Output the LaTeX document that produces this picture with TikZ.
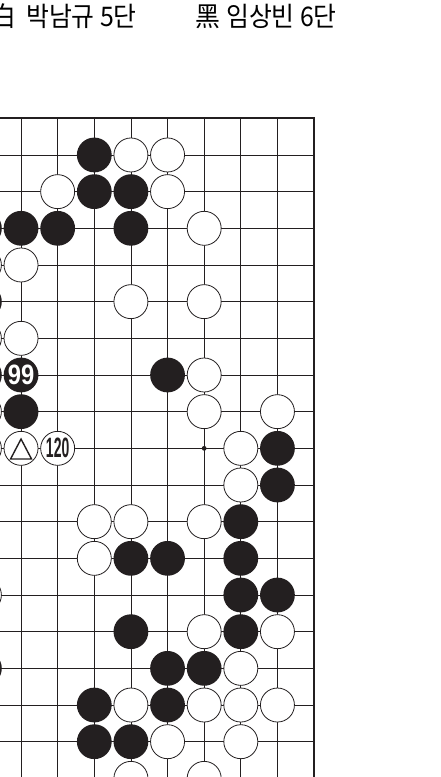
\documentclass[tikz,border=0pt]{standalone}
\usepackage{fontspec}
\usepackage{graphicx}
\usepackage{tikz}
\usetikzlibrary{calc}
\newfontfamily\kfont{Noto Sans CJK KR}
\newfontfamily\numfont{Liberation Sans}
\definecolor{stoneblack}{RGB}{35,31,32}

\begin{document}
\begin{tikzpicture}[x=1pt, y=-1pt,
  gridline/.style={line width=0.8pt, stoneblack},
  edgeline/.style={line width=1.8pt, stoneblack},
  bstone/.style={circle, fill=stoneblack, minimum size=34.8pt, inner sep=0pt},
  wstone/.style={circle, draw=stoneblack, fill=white, line width=0.8pt, minimum size=34pt, inner sep=0pt},
  player/.style={anchor=base west, inner sep=0pt, font=\kfont\fontsize{27pt}{27pt}\selectfont},
  movenum/.style={font=\numfont\bfseries\fontsize{28pt}{28pt}\selectfont}
]
\useasboundingbox (0,0) rectangle (440,777);
\clip (0,0) rectangle (440,777);

% players
\node[player] (wcol) at (-9,26.5) {\scalebox{0.92}[1]{白}};
\node[player] (wname) at (26,26.5) {\scalebox{0.92}[1]{박남규}};
\node[player] (wrank) at (100,26.5) {\scalebox{0.92}[1]{5단}};
\node[player] (bcol) at (195,26.5) {\scalebox{0.92}[1]{黑}};
\node[player] (bname) at (226,26.5) {\scalebox{0.92}[1]{임상빈}};
\node[player] (brank) at (300,26.5) {\scalebox{0.92}[1]{6단}};

\begin{scope}[shift={(-15.6pt,-118.3pt)}, x=36.63pt, y=-36.67pt]
% board lines
\foreach \c in {0,...,8} \draw[gridline] (\c,0) -- (\c,19);
\foreach \r in {1,...,18} \draw[gridline] (-1,\r) -- (9,\r);
\draw[edgeline] (-1,0) -- (9,0) -- (9,19);
\fill[stoneblack] (6,9) circle (2.4pt);

% black stones
\foreach \c/\r in {3/1, 3/2, 4/2, 0/3, 1/3, 2/3, 4/3, 0/5, 0/7, 5/7, 1/8,
  8/9, 8/10, 7/11, 4/12, 5/12, 7/12, 7/13, 8/13, 4/14, 7/14,
  0/15, 5/15, 6/15, 3/16, 5/16, 3/17, 4/17}
  \node[bstone] (b-\c-\r) at (\c,\r) {};

% white stones
\foreach \c/\r in {4/1, 5/1, 2/2, 5/2, 6/3, 0/4, 1/4, 4/5, 6/5, 0/6, 1/6,
  6/7, 0/8, 6/8, 8/8, 0/9, 7/9, 7/10, 3/11, 4/11, 6/11, 3/12, 0/13,
  6/14, 8/14, 7/15, 4/16, 6/16, 7/16, 8/16, 5/17, 7/17, 4/18, 6/18}
  \node[wstone] (w-\c-\r) at (\c,\r) {};

% marked moves
\node[bstone, movenum, text=white] (m99) at (1,7) {\scalebox{0.85}[1]{99}};
\node[wstone, movenum, text=stoneblack] (m120) at (2,9) {\scalebox{0.5}[1]{120}};
\node[wstone] (mtri) at (1,9) {};
\draw[line width=1.4pt, stoneblack, line join=miter]
  ($(mtri.center)+(0pt,9.3pt)$) -- ++(10.5pt,-20pt) -- ++(-21pt,0pt) -- cycle;
\end{scope}
\end{tikzpicture}
\end{document}
